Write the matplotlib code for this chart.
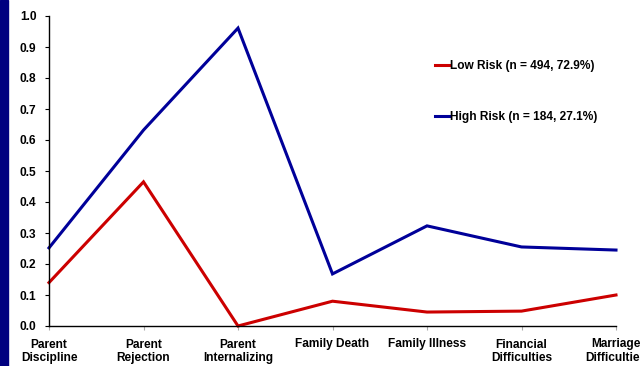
import matplotlib
matplotlib.use('Agg')
import matplotlib.pyplot as plt
from matplotlib.patches import Rectangle

plt.rcParams['font.family'] = ['Liberation Sans', 'DejaVu Sans']

categories = ['Parent\nDiscipline', 'Parent\nRejection', 'Parent\nInternalizing',
              'Family Death', 'Family Illness', 'Financial\nDifficulties',
              'Marriage\nDifficulties']
low_risk = [0.14, 0.465, 0.0, 0.08, 0.045, 0.048, 0.10]
high_risk = [0.252, 0.632, 0.961, 0.168, 0.323, 0.255, 0.245]
yticks = [0.0, 0.1, 0.2, 0.3, 0.4, 0.5, 0.6, 0.7, 0.8, 0.9, 1.0]

fig = plt.figure(figsize=(6.4, 3.66), dpi=100)
ax = fig.add_axes([49/640, 1 - 326/366, (616 - 49)/640, (326 - 16)/366])

x = range(len(categories))
l1, = ax.plot(x, low_risk, color='#cc0000', lw=2.2, solid_joinstyle='miter',
              label='Low Risk (n = 494, 72.9%)', clip_on=False)
l2, = ax.plot(x, high_risk, color='#000099', lw=2.2, solid_joinstyle='miter',
              label='High Risk (n = 184, 27.1%)', clip_on=False)

ax.set_xlim(0, 6)
ax.set_ylim(0, 1.0)
ax.set_yticks(yticks)
ax.set_yticklabels(['%.1f' % v for v in yticks], fontsize=8.6, fontweight='bold')
ax.set_xticks(list(x))
ax.set_xticklabels(categories, fontsize=8.6, fontweight='bold')
ax.tick_params(axis='y', length=3, width=0.8, pad=6)
ax.tick_params(axis='x', length=3, width=0.8, color='#aaaaaa', pad=6)
for s in ['top', 'right']:
    ax.spines[s].set_visible(False)
ax.spines['left'].set_linewidth(1)
ax.spines['bottom'].set_linewidth(1)

leg = fig.legend(handles=[l1, l2], loc='upper left', bbox_to_anchor=(424/640, 1 - 49/366),
                 frameon=False, handlelength=1.2, handletextpad=0.1, labelspacing=3.27,
                 prop={'size': 8.6, 'weight': 'bold'})

fig.patches.append(Rectangle((0, 0), 8/640, 1, transform=fig.transFigure,
                             color='#000080', zorder=0))

fig.savefig('out.png', dpi=100)
